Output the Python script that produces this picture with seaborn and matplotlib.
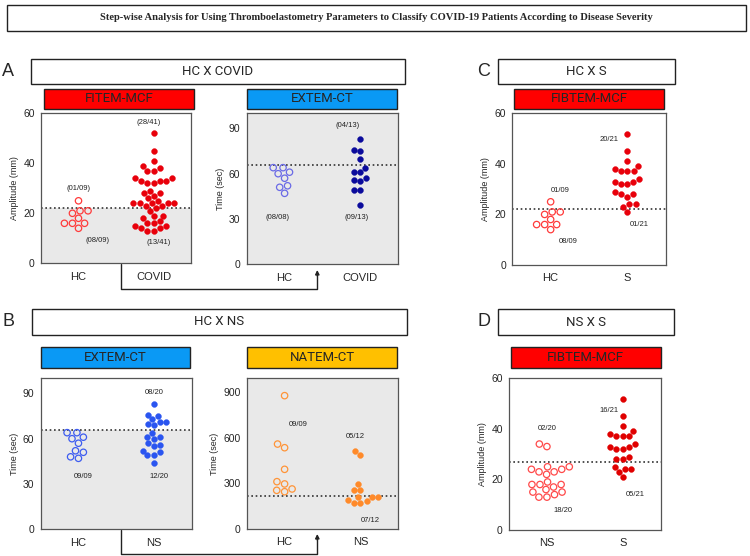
import numpy as np
import pandas as pd
import matplotlib
matplotlib.use("Agg")
import matplotlib.pyplot as plt
from matplotlib.patches import Rectangle
import seaborn as sns

# ---- data ----
a_hc = [25, 21, 21, 20, 18, 16, 16, 16, 14]
a_covid = [52, 45, 41, 39, 38, 37, 37, 34, 34, 33, 33, 33, 32, 32, 29, 28, 28, 27, 26, 25,
           24, 24, 24, 24, 24, 23, 23, 22, 21, 19, 19, 18, 17, 16, 16, 15, 15, 14, 14, 13, 13]
ext_hc_a = [64, 64, 61, 60, 57, 52, 51, 47]
ext_covid = [83, 76, 75, 70, 64, 61, 61, 57, 56, 55, 49, 49, 39]
c_hc = [25, 21, 21, 20, 18, 16, 16, 16, 14]
c_s = [52, 45, 41, 39, 38, 37, 37, 37, 34, 33, 33, 32, 32, 29, 28, 28, 27, 24, 24, 23, 21]
ext_hc_b = [64, 64, 61, 60, 57, 52, 51, 48, 47]
ext_ns = [83, 76, 75, 73, 71, 71, 70, 69, 64, 61, 61, 60, 57, 56, 55, 52, 51, 49, 49, 44]
nat_hc = [876, 558, 534, 392, 311, 296, 263, 254, 245]
nat_ns = [512, 486, 293, 258, 256, 210, 210, 210, 190, 182, 171, 171]
d_ns = [34, 33, 25, 25, 24, 24, 23, 23, 22, 19, 18, 18, 18, 17, 16, 15, 15, 14, 13, 13]
d_s = [52, 45, 41, 39, 38, 37, 37, 37, 34, 33, 33, 32, 32, 29, 28, 28, 25, 24, 24, 23, 21]

cutoffs = {"A1": 22, "A2": 66, "C": 22, "B1": 66, "B2": 220, "D": 27}
title = ("Step-wise Analysis for Using Thromboelastometry Parameters to Classify "
         "COVID-19 Patients According to Disease Severity")

sns.set_style("white")
plt.rcParams["font.family"] = ["Liberation Sans", "DejaVu Sans"]

W, H = 750, 556
fig = plt.figure(figsize=(7.5, 5.56), dpi=100)
over = fig.add_axes([0, 0, 1, 1], zorder=-1)
over.set_xlim(0, W)
over.set_ylim(H, 0)
over.axis("off")


def rect(x0, y0, x1, y1):
    return [x0 / W, 1 - y1 / H, (x1 - x0) / W, (y1 - y0) / H]


def box(x0, y0, x1, y1, text, fc="white", font="Roboto", size=9.5, weight="normal"):
    over.add_patch(Rectangle((x0, y0), x1 - x0, y1 - y0, fc=fc, ec="#222222", lw=1))
    over.text((x0 + x1) / 2, (y0 + y1) / 2, text, ha="center", va="center",
              fontsize=size, family=font, weight=weight)


def panel(pos, cats, groups, cut, ylim, yticks, ylabel, shade, notes):
    ax = fig.add_axes(rect(*pos))
    for cat, vals, col, hollow in groups:
        if hollow:
            sns.swarmplot(x=[cat] * len(vals), y=vals, order=cats, color=col,
                          facecolor="none", edgecolor=col, linewidth=0.9,
                          size=4.6, ax=ax, zorder=3)
            pc = ax.collections[-1]
            pc.set_facecolor("none")
            pc.set_edgecolor(col)
        else:
            sns.swarmplot(x=[cat] * len(vals), y=vals, order=cats, color=col,
                          edgecolor=col, linewidth=0.3, size=4.2, ax=ax, zorder=3)
    if shade == "all":
        ax.set_facecolor("#e9e9e9")
    elif shade == "below":
        ax.axhspan(0, cut, color="#e9e9e9", zorder=0, lw=0)
    ax.axhline(cut, ls=(0, (1, 1.6)), color="#333333", lw=1.2, zorder=2)
    ax.set_xlim(-0.5, 1.5)
    ax.set_ylim(*ylim)
    ax.set_yticks(yticks)
    ax.set_xlabel("")
    ax.set_ylabel(ylabel, fontsize=6.5, labelpad=3)
    ax.tick_params(axis="y", length=3, width=0.8, color="#333333", labelsize=7.5, pad=1.5)
    ax.tick_params(axis="x", length=0, labelsize=8, pad=6)
    for s in ax.spines.values():
        s.set_visible(True)
        s.set_color("#555555")
        s.set_linewidth(0.9)
    for x, y, t in notes:
        ax.text(x, y, t, fontsize=5.5, ha="center", va="center", color="#222222", zorder=4)
    return ax


# title
box(7, 5, 746, 31, title, font="Liberation Serif", size=7.6, weight="bold")

# comparison boxes
box(31, 59, 405, 84, "HC X COVID")
box(498, 59, 675, 84, "HC X S")
box(31.5, 309, 406.5, 334.5, "HC X NS")
box(498, 309, 674, 335, "NS X S")

# parameter header bars
RED, BLUE, AMBER = "#ff0000", "#0a99f5", "#ffc000"
box(44, 88.5, 194, 108.5, "FITEM-MCF", fc=RED)
box(246.7, 88.5, 397.3, 108.5, "EXTEM-CT", fc=BLUE)
box(514, 88.5, 664.3, 109.3, "FIBTEM-MCF", fc=RED)
box(40.7, 347.3, 190, 368.3, "EXTEM-CT", fc=BLUE)
box(246.7, 347.3, 397.3, 368.3, "NATEM-CT", fc=AMBER)
box(510.7, 347.3, 660.7, 368.3, "FIBTEM-MCF", fc=RED)

# panel letters
for lx, ly, l in [(8, 71.5, "A"), (8, 321.5, "B"), (484, 71.5, "C"), (484, 321.5, "D")]:
    over.text(lx, ly, l, fontsize=13, ha="center", va="center")

# connectors
for ytop, ybot, yarr in [(264, 289, 270), (530, 554, 534)]:
    over.plot([121, 121, 317.3, 317.3], [ytop, ybot, ybot, yarr + 3], color="#222222", lw=1)
    over.annotate("", xy=(317.3, yarr), xytext=(317.3, yarr + 6),
                  arrowprops=dict(arrowstyle="-|>", color="#222222", lw=1,
                                  mutation_scale=6, shrinkA=0, shrinkB=0))

panel((41, 113.3, 191, 263.3), ["HC", "COVID"],
      [("HC", a_hc, "#ff3b3b", True), ("COVID", a_covid, "#e8000b", False)],
      cutoffs["A1"], (0, 60), [0, 20, 40, 60], "Amplitude (mm)", "below",
      [(0, 30, "(01/09)"), (0.26, 9, "(08/09)"), (0.93, 56.3, "(28/41)"), (1.07, 8.3, "(13/41)")])

panel((246.7, 113.3, 398.3, 264.3), ["HC", "COVID"],
      [("HC", ext_hc_a, "#6a6ae6", True), ("COVID", ext_covid, "#0b0b9c", False)],
      cutoffs["A2"], (0, 100), [0, 30, 60, 90], "Time (sec)", "all",
      [(0.83, 91.8, "(04/13)"), (-0.1, 31, "(08/08)"), (0.95, 31, "(09/13)")])

panel((512.3, 113.3, 665.7, 265), ["HC", "S"],
      [("HC", c_hc, "#ff3b3b", True), ("S", c_s, "#e8000b", False)],
      cutoffs["C"], (0, 60), [0, 20, 40, 60], "Amplitude (mm)", None,
      [(0.12, 29.4, "01/09"), (0.23, 9.2, "08/09"), (0.76, 49.5, "20/21"), (1.16, 16.2, "01/21")])

panel((40.7, 378.3, 191.7, 529.3), ["HC", "NS"],
      [("HC", ext_hc_b, "#3d5cf0", True), ("NS", ext_ns, "#2a55f0", False)],
      cutoffs["B1"], (0, 100), [0, 30, 60, 90], "Time (sec)", "below",
      [(1.0, 90.4, "08/20"), (0.06, 35, "09/09"), (1.07, 35, "12/20")])

panel((246.7, 378.3, 398.3, 529), ["HC", "NS"],
      [("HC", nat_hc, "#ff9438", True), ("NS", nat_ns, "#ff8a2a", False)],
      cutoffs["B2"], (0, 990), [0, 300, 600, 900], "Time (sec)", "all",
      [(0.18, 687, "09/09"), (0.93, 606, "05/12"), (1.13, 59, "07/12")])

panel((509, 378.3, 660.7, 530), ["NS", "S"],
      [("NS", d_ns, "#ff4a4a", True), ("S", d_s, "#e00000", False)],
      cutoffs["D"], (0, 60), [0, 20, 40, 60], "Amplitude (mm)", None,
      [(0.0, 40.2, "02/20"), (0.21, 7.7, "18/20"), (0.82, 47.1, "16/21"), (1.17, 14.2, "05/21")])

fig.savefig("out.png", dpi=100)
